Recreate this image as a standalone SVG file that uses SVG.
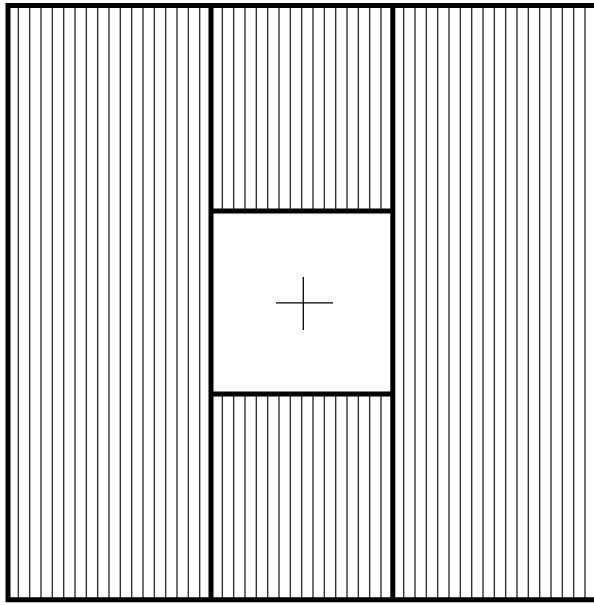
<svg xmlns="http://www.w3.org/2000/svg" width="594" height="605" viewBox="0 0 594 605">
<style>
.hatch{stroke:#333;stroke-width:1.4;fill:none}
.thick{stroke:#000;stroke-width:5;fill:none}
.cross{stroke:#000;stroke-width:1.3;fill:none}
</style>
<rect width="594" height="605" fill="#fff"/>
<g id="hatch-left">
<path class="hatch" d="M18.33 5V600M29.67 5V600M41 5V600M52.33 5V600M63.67 5V600M75 5V600M86.33 5V600M97.67 5V600M109 5V600M120.33 5V600M131.67 5V600M143 5V600M154.33 5V600M165.67 5V600M177 5V600M188.33 5V600M199.67 5V600"/>
</g>
<g id="hatch-middle">
<path class="hatch" d="M222.33 5V211M233.67 5V211M245 5V211M256.33 5V211M267.67 5V211M279 5V211M290.33 5V211M301.67 5V211M313 5V211M324.33 5V211M335.67 5V211M347 5V211M358.33 5V211M369.67 5V211M381 5V211"/>
<path class="hatch" d="M222.33 394V600M233.67 394V600M245 394V600M256.33 394V600M267.67 394V600M279 394V600M290.33 394V600M301.67 394V600M313 394V600M324.33 394V600M335.67 394V600M347 394V600M358.33 394V600M369.67 394V600M381 394V600"/>
</g>
<g id="hatch-right">
<path class="hatch" d="M403.67 5V600M415 5V600M426.33 5V600M437.67 5V600M449 5V600M460.33 5V600M471.67 5V600M483 5V600M494.33 5V600M505.67 5V600M517 5V600M528.33 5V600M539.67 5V600M551 5V600M562.33 5V600M573.67 5V600M585 5V600"/>
</g>
<g id="frame">
<path class="thick" d="M600 5.5H8V599.8H600"/>
<path class="thick" d="M211 5.5V599.8M392.8 5.5V599.8"/>
<path class="thick" d="M211 211H392.8M211 394H392.8"/>
</g>
<g id="center-mark">
<path class="cross" d="M276 302.8H333M303.3 277V330"/>
</g>
</svg>
